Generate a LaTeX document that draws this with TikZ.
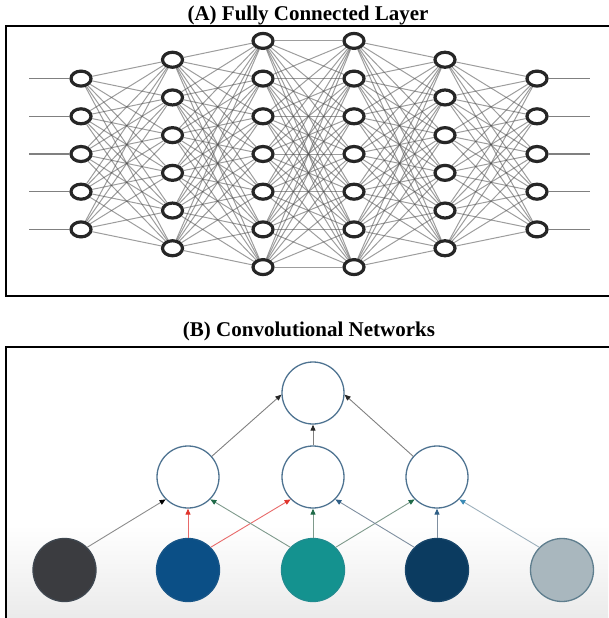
\documentclass[tikz,border=0pt]{standalone}
\usepackage{fontspec}
\setmainfont{Liberation Serif}
\usetikzlibrary{arrows.meta,shapes.geometric,backgrounds}
\definecolor{ringblue}{HTML}{4E7391}
\definecolor{inkgray}{HTML}{3B3C40}
\definecolor{deepblue}{HTML}{0B4F86}
\definecolor{tealc}{HTML}{14928F}
\definecolor{navyc}{HTML}{0B3B60}
\definecolor{paleslate}{HTML}{A9B7BE}
\definecolor{paleedge}{HTML}{5F7E8E}
\definecolor{redline}{HTML}{E86A6A}
\definecolor{redtip}{HTML}{E0342C}
\definecolor{greenline}{HTML}{7F9A8C}
\definecolor{greentip}{HTML}{1F6A48}
\definecolor{blueline}{HTML}{7F8FA0}
\definecolor{bluetip}{HTML}{2F5F86}
\definecolor{paleline}{HTML}{9DB0BC}
\definecolor{paletip}{HTML}{3A8AB5}

\begin{document}
\begin{tikzpicture}[x=1pt, y=-1pt,
  title/.style={font=\fontsize{21}{24}\selectfont\bfseries, anchor=base, inner sep=0pt},
  panel/.style={line width=2pt},
  neuron/.style={ellipse, draw=black!85, line width=3.2pt, fill=white, minimum width=20pt, minimum height=15pt, inner sep=0pt},
  synapse/.style={draw=black!70, line width=1pt, opacity=0.55},
  feed/.style={draw=black!50, line width=1.3pt},
  unit/.style={circle, draw=ringblue, line width=1.3pt, fill=white, minimum size=62pt, inner sep=0pt},
  pixel/.style 2 args={circle, draw=#2, fill=#1, line width=1.3pt, minimum size=63pt, inner sep=0pt},
  wire/.style 2 args={draw=#1, line width=0.9pt, -{Triangle[length=6pt, width=5pt, color=#2]}}]
  \useasboundingbox (0,0) rectangle (608,618);

  % (A) fully connected
  \node[title] (titleA) at (308,20.5) {(A) Fully Connected Layer};
  \draw[panel] (610,26) -- (6,26) -- (6,296) -- (610,296);
  \foreach \l/\x/\n in {1/81/5, 2/172.5/6, 3/263/7, 4/354/7, 5/445/6, 6/537/5}
    \foreach \i in {1,...,\n}
      \node[neuron] (n-\l-\i) at (\x, {154+(\i-(\n+1)/2)*37.7}) {};
  \begin{scope}[on background layer]
    \foreach \l/\k/\n/\m in {1/2/5/6, 2/3/6/7, 3/4/7/7, 4/5/7/6, 5/6/6/5}
      \foreach \i in {1,...,\n}
        \foreach \j in {1,...,\m}
          \draw[synapse] (n-\l-\i) -- (n-\k-\j);
    \foreach \i in {1,...,5} {
      \coordinate (in-\i) at (29, {154+(\i-3)*37.7});
      \coordinate (out-\i) at (590, {154+(\i-3)*37.7});
      \draw[feed] (in-\i) -- (n-1-\i);
      \draw[feed] (n-6-\i) -- (out-\i);
    }
  \end{scope}

  % (B) convolutional
  \node[title] (titleB) at (309,336) {(B) Convolutional Networks};
  \shade[top color=white, bottom color=black!8] (7,525) rectangle (608,618);
  \draw[panel] (610,347) -- (6,347) -- (6,620);
  \node[unit] (top) at (313,393) {};
  \foreach \k/\x in {1/188, 2/313, 3/437}
    \node[unit] (mid-\k) at (\x,477) {};
  \foreach \k/\x/\c/\e in {1/64.5/inkgray/{inkgray!80!ringblue}, 2/188/deepblue/{deepblue!80!ringblue},
                           3/313/tealc/{tealc!80!ringblue}, 4/437/navyc/{navyc!80!ringblue}, 5/562/paleslate/paleedge}
    \node[pixel={\c}{\e}] (px-\k) at (\x,570) {};

  \draw[wire={black!50}{black!85}] (mid-1.41) -- (top.183);
  \draw[wire={black!50}{black!85}] (mid-2.north) -- (top.south);
  \draw[wire={black!50}{black!85}] (mid-3.139) -- (top.357);
  \draw[wire={black!45}{black}] (px-1.45) -- (mid-1.225);
  \draw[wire={redline}{redtip}] (px-2.north) -- (mid-1.south);
  \draw[wire={redline}{redtip}] (px-2.45) -- (mid-2.225);
  \draw[wire={greenline}{greentip}] (px-3.135) -- (mid-1.315);
  \draw[wire={greenline}{greentip}] (px-3.north) -- (mid-2.south);
  \draw[wire={greenline}{greentip}] (px-3.45) -- (mid-3.225);
  \draw[wire={blueline}{bluetip}] (px-4.135) -- (mid-2.315);
  \draw[wire={blueline}{bluetip}] (px-4.north) -- (mid-3.south);
  \draw[wire={paleline}{paletip}] (px-5.135) -- (mid-3.315);
\end{tikzpicture}
\end{document}
